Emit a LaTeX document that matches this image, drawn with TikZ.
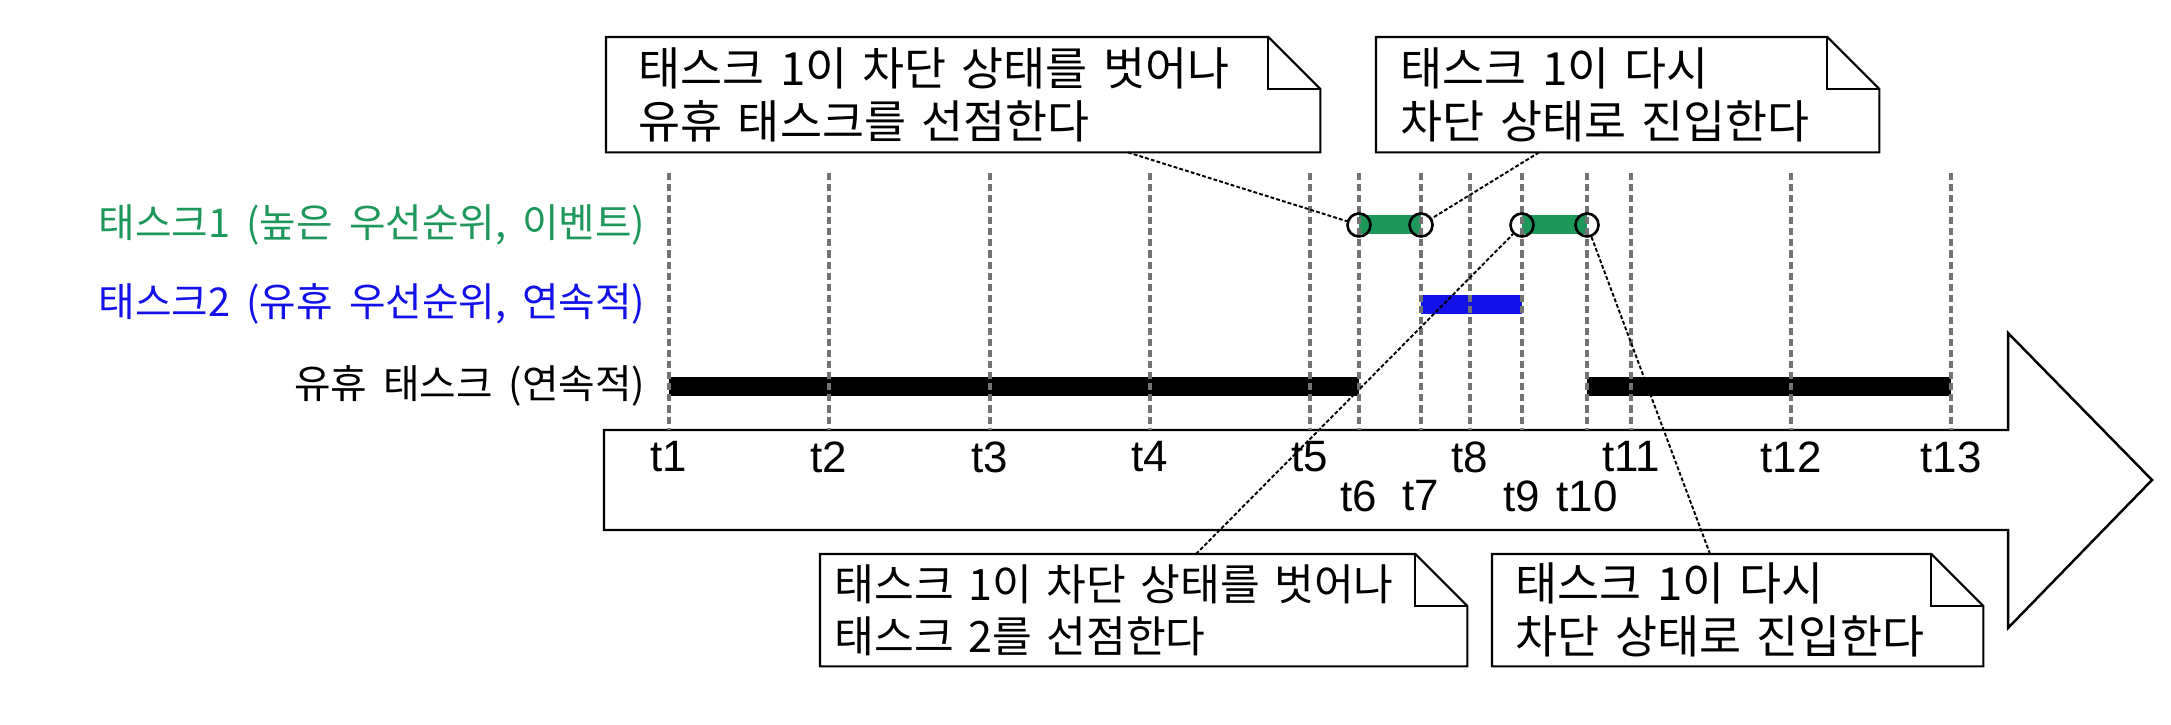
\documentclass[tikz,border=0pt]{standalone}
\usepackage{fontspec}
\setmainfont{Liberation Sans}
\newfontfamily\kr[WordSpace=1.8]{Noto Sans CJK KR}
\usepackage{tikz}
\usetikzlibrary{arrows}

\definecolor{taskgreen}{RGB}{30,152,90}
\definecolor{taskblue}{RGB}{18,18,232}

\begin{document}
\begin{tikzpicture}[
  tickline/.style={black!55, line width=0.9pt, dash pattern=on 2pt off 1.15pt},
  bar/.style={line width=0.19cm},
  endmark/.style={circle, draw, line width=0.75pt, minimum size=0.23cm, inner sep=0pt},
  lead/.style={line width=0.55pt, dash pattern=on 1.1pt off 0.6pt},
  note/.style={anchor=north west, inner ysep=0pt, align=left, font=\kr\fontsize{13}{15}\selectfont},
  rowlabel/.style={anchor=east, inner xsep=0pt, font=\kr\fontsize{11.3}{13}\selectfont},
  tick/.style={font=\fontsize{12.5}{14}\selectfont}
]
\useasboundingbox (0,0) rectangle (21.71,7.24);

% time axis
\draw [line width=0.7pt] (6.04,2.94) -- (20.08,2.94) -- (20.08,3.91) -- (21.52,2.44)
  -- (20.08,0.96) -- (20.08,1.94) -- (6.04,1.94) -- cycle;

\coordinate (top) at (0,5.51);
\coordinate (base) at (0,2.94);

\foreach \n/\x/\y in {1/6.69/2.67, 2/8.29/2.67, 3/9.90/2.67, 4/11.50/2.67, 5/13.10/2.67,
    6/13.59/2.28, 7/14.21/2.28, 8/14.70/2.67, 9/15.22/2.28, 10/15.87/2.28,
    11/16.31/2.67, 12/17.91/2.67, 13/19.51/2.67}
  \node [tick] (t\n) at (\x,\y) {t\n};

% rows
\node [rowlabel, taskgreen] (row1) at (6.46,4.99) {태스크1 (높은 우선순위, 이벤트)};
\node [rowlabel, taskblue] (row2) at (6.46,4.20) {태스크2 (유휴 우선순위, 연속적)};
\node [rowlabel] (row3) at (6.46,3.38) {유휴 태스크 (연속적)};

\draw [bar, taskgreen] (t6 |- row1) -- (t7 |- row1);
\draw [bar, taskgreen] (t9 |- row1) -- (t10 |- row1);
\draw [bar, taskblue] (t7 |- row2) -- (t9 |- row2);
\draw [bar] (t1 |- row3) -- (t6 |- row3);
\draw [bar] (t10 |- row3) -- (t13 |- row3);

\foreach \n in {1,...,13}
  \draw [tickline] (t\n |- top) -- (t\n |- base);

\node [endmark] (c6) at (t6 |- row1) {};
\node [endmark] (c7) at (t7 |- row1) {};
\node [endmark] (c9) at (t9 |- row1) {};
\node [endmark] (c10) at (t10 |- row1) {};

% notes
\node [note, text width=6.49cm, inner xsep=0.32cm, minimum height=1.14cm] (noteA) at (6.06,6.87)
  {태스크 1이 차단 상태를 벗어나\\유휴 태스크를 선점한다};
\node [note, text width=4.54cm, inner xsep=0.24cm, minimum height=1.14cm] (noteB) at (13.76,6.87)
  {태스크 1이 다시\\차단 상태로 진입한다};
\node [note, text width=6.18cm, inner xsep=0.14cm, minimum height=1.11cm, font=\kr\fontsize{12.3}{15}\selectfont] (noteC) at (8.20,1.70)
  {태스크 1이 차단 상태를 벗어나\\태스크 2를 선점한다};
\node [note, text width=4.44cm, inner xsep=0.23cm, minimum height=1.11cm] (noteD) at (14.92,1.70)
  {태스크 1이 다시\\차단 상태로 진입한다};

\foreach \b in {noteA,noteB,noteC,noteD} {
  \draw [line width=0.6pt] (\b.north west) -- ([xshift=-0.52cm]\b.north east) -- ([yshift=-0.52cm]\b.north east)
    -- (\b.south east) -- (\b.south west) -- cycle;
  \draw [line width=0.6pt] ([xshift=-0.52cm]\b.north east) |- ([yshift=-0.52cm]\b.north east);
}

\draw [lead] ([xshift=5.22cm]noteA.south west) -- (c6);
\draw [lead] ([xshift=1.63cm]noteB.south west) -- (c7);
\draw [lead] ([xshift=3.76cm]noteC.north west) -- (c9);
\draw [lead] ([xshift=2.18cm]noteD.north west) -- (c10);
\end{tikzpicture}
\end{document}
